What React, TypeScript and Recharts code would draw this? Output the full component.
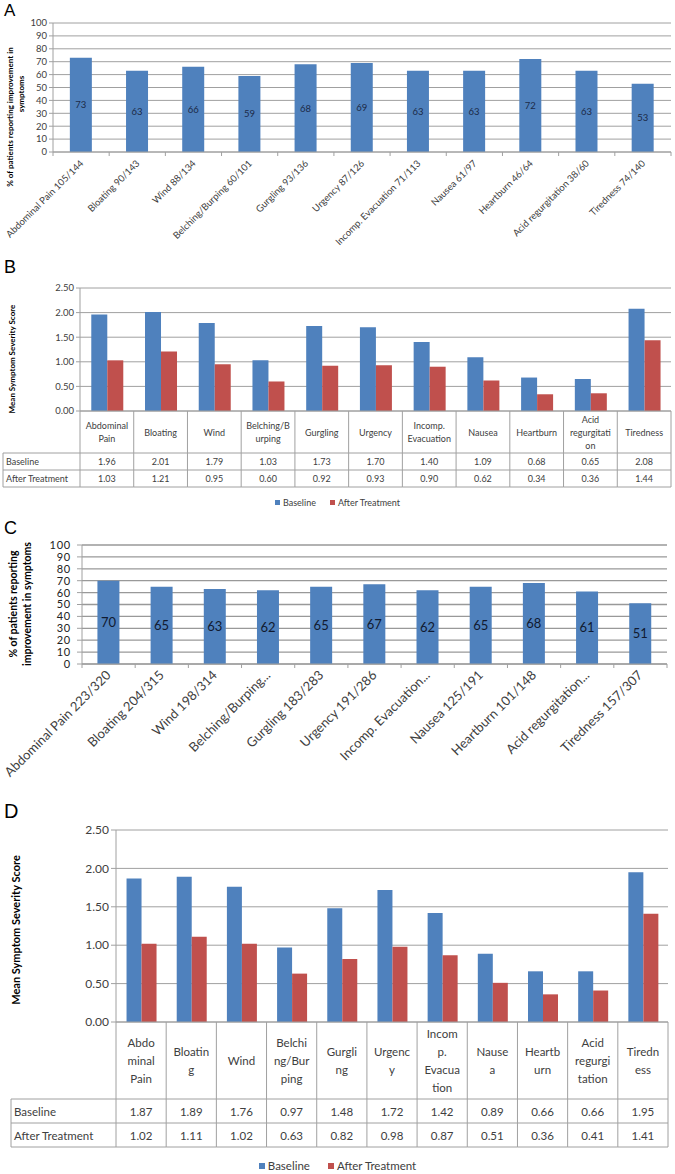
import React from "react";
import { BarChart, Bar, XAxis, YAxis, CartesianGrid, LabelList, Legend } from "recharts";

// --- data ---
const symptomsA = [
  "Abdominal Pain 105/144",
  "Bloating 90/143",
  "Wind 88/134",
  "Belching/Burping 60/101",
  "Gurgling 93/136",
  "Urgency 87/126",
  "Incomp. Evacuation 71/113",
  "Nausea 61/97",
  "Heartburn 46/64",
  "Acid regurgitation 38/60",
  "Tiredness 74/140",
];
const improvedA = [73, 63, 66, 59, 68, 69, 63, 63, 72, 63, 53];

const headersB = [
  ["Abdominal", "Pain"],
  ["Bloating"],
  ["Wind"],
  ["Belching/B", "urping"],
  ["Gurgling"],
  ["Urgency"],
  ["Incomp.", "Evacuation"],
  ["Nausea"],
  ["Heartburn"],
  ["Acid", "regurgitati", "on"],
  ["Tiredness"],
];
const baselineB = [1.96, 2.01, 1.79, 1.03, 1.73, 1.7, 1.4, 1.09, 0.68, 0.65, 2.08];
const afterB = [1.03, 1.21, 0.95, 0.6, 0.92, 0.93, 0.9, 0.62, 0.34, 0.36, 1.44];

const symptomsC = [
  "Abdominal Pain 223/320",
  "Bloating 204/315",
  "Wind 198/314",
  "Belching/Burping...",
  "Gurgling 183/283",
  "Urgency 191/286",
  "Incomp. Evacuation...",
  "Nausea 125/191",
  "Heartburn 101/148",
  "Acid regurgitation...",
  "Tiredness 157/307",
];
const improvedC = [70, 65, 63, 62, 65, 67, 62, 65, 68, 61, 51];

const headersD = [
  ["Abdo", "minal", "Pain"],
  ["Bloatin", "g"],
  ["Wind"],
  ["Belchi", "ng/Bur", "ping"],
  ["Gurgli", "ng"],
  ["Urgenc", "y"],
  ["Incom", "p.", "Evacua", "tion"],
  ["Nause", "a"],
  ["Heartb", "urn"],
  ["Acid", "regurgi", "tation"],
  ["Tiredn", "ess"],
];
const baselineD = [1.87, 1.89, 1.76, 0.97, 1.48, 1.72, 1.42, 0.89, 0.66, 0.66, 1.95];
const afterD = [1.02, 1.11, 1.02, 0.63, 0.82, 0.98, 0.87, 0.51, 0.36, 0.41, 1.41];

const rowNames = ["Baseline", "After Treatment"];
const pctTicks = [0, 10, 20, 30, 40, 50, 60, 70, 80, 90, 100];
const scoreTicks = [0, 0.5, 1, 1.5, 2, 2.5];

// --- style ---
const FONT = "Lato, Carlito, Calibri, 'Open Sans', sans-serif";
const BLUE = "#4f81bd";
const RED = "#c0504d";
const GRID = "#a0a0a0";
const TXT = "#404040";
const N = 11;

const dataA = symptomsA.map((name, i) => ({ name, pct: improvedA[i] }));
const dataC = symptomsC.map((name, i) => ({ name, pct: improvedC[i] }));
const dataB = headersB.map((h, i) => ({ name: h.join(""), base: baselineB[i], after: afterB[i] }));
const dataD = headersD.map((h, i) => ({ name: h.join(""), base: baselineD[i], after: afterD[i] }));

// rotated category label + tick marks on the category boundaries
const rotatedTick = (band: number, fontSize: number, dy: number) => (props: any) => {
  const { x, y, index, payload } = props;
  const l = x - band / 2;
  const ax = x + 3;
  const ay = y + dy;
  return (
    <g>
      <line x1={l} y1={y} x2={l} y2={y + 4} stroke={GRID} />
      {index === N - 1 && <line x1={x + band / 2} y1={y} x2={x + band / 2} y2={y + 4} stroke={GRID} />}
      <text
        x={ax}
        y={ay}
        transform={`rotate(-45 ${ax} ${ay})`}
        textAnchor="end"
        fontSize={fontSize}
        fontFamily={FONT}
        fill={TXT}
      >
        {payload.value}
      </text>
    </g>
  );
};

type TableSpec = {
  headers: string[][];
  rows: number[][];
  band: number;
  labelLeft: number;
  headH: number;
  rowH: number;
  font: number;
  lineH: number;
};

// data table under the plot, one column per category tick
const tableTick = (s: TableSpec) => (props: any) => {
  const { x, y, index } = props;
  const half = s.band / 2;
  const l = x - half;
  const r = x + half;
  const y1 = y + s.headH;
  const y2 = y1 + s.rowH;
  const y3 = y2 + s.rowH;
  const lines = s.headers[index] || [];
  const top = y + s.headH / 2 - ((lines.length - 1) * s.lineH) / 2;
  const t = { fontSize: s.font, fontFamily: FONT, fill: TXT, dominantBaseline: "central" as const };
  return (
    <g>
      <line x1={l} y1={y} x2={l} y2={y3} stroke={GRID} />
      {index === N - 1 && <line x1={r} y1={y} x2={r} y2={y3} stroke={GRID} />}
      <line x1={l} y1={y1} x2={r} y2={y1} stroke={GRID} />
      <line x1={l} y1={y2} x2={r} y2={y2} stroke={GRID} />
      <line x1={l} y1={y3} x2={r} y2={y3} stroke={GRID} />
      {lines.map((ln, k) => (
        <text key={k} x={x} y={top + k * s.lineH} textAnchor="middle" {...t}>
          {ln}
        </text>
      ))}
      <text x={x} y={(y1 + y2) / 2} textAnchor="middle" {...t}>
        {s.rows[0][index].toFixed(2)}
      </text>
      <text x={x} y={(y2 + y3) / 2} textAnchor="middle" {...t}>
        {s.rows[1][index].toFixed(2)}
      </text>
      {index === 0 && (
        <g>
          <line x1={s.labelLeft} y1={y1} x2={s.labelLeft} y2={y3} stroke={GRID} />
          <line x1={s.labelLeft} y1={y1} x2={l} y2={y1} stroke={GRID} />
          <line x1={s.labelLeft} y1={y2} x2={l} y2={y2} stroke={GRID} />
          <line x1={s.labelLeft} y1={y3} x2={l} y2={y3} stroke={GRID} />
          <text x={s.labelLeft + 3} y={(y1 + y2) / 2} {...t}>
            {rowNames[0]}
          </text>
          <text x={s.labelLeft + 3} y={(y2 + y3) / 2} {...t}>
            {rowNames[1]}
          </text>
        </g>
      )}
    </g>
  );
};

const legendContent = (fontSize: number, sq: number, gap: number) => (props: any) => {
  const items = [...(props.payload || [])].sort(
    (a: any, b: any) => rowNames.indexOf(a.value) - rowNames.indexOf(b.value)
  );
  return (
    <div style={{ display: "flex", justifyContent: "center", gap, fontFamily: FONT, fontSize, color: TXT }}>
      {items.map((p: any) => (
        <span key={p.value} style={{ display: "flex", alignItems: "center" }}>
          <span style={{ width: sq, height: sq, background: p.color, marginRight: 3, display: "inline-block" }} />
          {p.value}
        </span>
      ))}
    </div>
  );
};

const Letter = ({ ch, top, base, size }: { ch: string; top: number; base: number; size: number }) => (
  <svg style={{ position: "absolute", left: 0, top }} width={30} height={30}>
    <text x={4} y={base} fontSize={size} fontFamily="'Liberation Sans', Arial, sans-serif" fill="#000">
      {ch}
    </text>
  </svg>
);

const yLabel = (items: { x: number; y: number; text: string }[], fontSize: number) => () => (
  <g>
    {items.map((it) => (
      <text
        key={it.text}
        transform={`translate(${it.x} ${it.y}) rotate(-90)`}
        textAnchor="middle"
        dominantBaseline="central"
        fontSize={fontSize}
        fontWeight="bold"
        fontFamily={FONT}
        fill="#000"
      >
        {it.text}
      </text>
    ))}
  </g>
);

const PanelA = () => (
  <BarChart width={675} height={250} data={dataA} margin={{ top: 23, right: 4, bottom: 0, left: 0 }} barCategoryGap="30%">
    <CartesianGrid vertical={false} stroke={GRID} />
    <XAxis dataKey="name" interval={0} height={98} tickLine={false} tickSize={0} tickMargin={0} stroke={GRID} tick={rotatedTick(618 / N, 9.5, 12)} />
    <YAxis
      width={53}
      domain={[0, 100]}
      ticks={pctTicks}
      interval={0}
      stroke={GRID}
      tickSize={4}
      tick={{ fill: TXT, fontSize: 9.5, fontFamily: FONT }}
      label={yLabel(
        [
          { x: 10, y: 117, text: "% of patients reporting improvement in" },
          { x: 21, y: 94, text: "symptoms" },
        ],
        8
      )}
    />
    <Bar dataKey="pct" fill={BLUE} isAnimationActive={false}>
      <LabelList dataKey="pct" position="center" fill="#1c2a48" fontSize={9.5} fontFamily={FONT} />
    </Bar>
  </BarChart>
);

const PanelB = () => (
  <BarChart width={675} height={262} data={dataB} margin={{ top: 38, right: 4, bottom: 25, left: 0 }} barCategoryGap="21%" barGap={0}>
    <CartesianGrid vertical={false} stroke={GRID} />
    <XAxis
      dataKey="name"
      interval={0}
      height={76}
      tickLine={false}
      tickSize={0}
      tickMargin={0}
      stroke={GRID}
      tick={tableTick({ headers: headersB, rows: [baselineB, afterB], band: 591 / N, labelLeft: 3, headH: 42, rowH: 17, font: 9, lineH: 13 })}
    />
    <YAxis
      width={80}
      domain={[0, 2.5]}
      ticks={scoreTicks}
      interval={0}
      stroke={GRID}
      tickSize={4}
      tickFormatter={(v: number) => v.toFixed(2)}
      tick={{ fill: TXT, fontSize: 9.5, fontFamily: FONT }}
      label={yLabel([{ x: 12, y: 109, text: "Mean Symptom Severity Score" }], 8)}
    />
    <Legend verticalAlign="middle" align="center" layout="horizontal" wrapperStyle={{ top: 247, left: 0, width: 675 }} content={legendContent(9, 5, 14)} />
    <Bar dataKey="base" name="Baseline" fill={BLUE} isAnimationActive={false} />
    <Bar dataKey="after" name="After Treatment" fill={RED} isAnimationActive={false} />
  </BarChart>
);

const PanelC = () => (
  <BarChart width={675} height={260} data={dataC} margin={{ top: 25, right: 8, bottom: 0, left: 0 }} barCategoryGap="29%">
    <CartesianGrid vertical={false} stroke="#999" strokeWidth={1.3} />
    <XAxis dataKey="name" interval={0} height={116} tickLine={false} tickSize={0} tickMargin={0} stroke={GRID} tick={rotatedTick(585 / N, 13, 12)} />
    <YAxis
      width={82}
      domain={[0, 100]}
      ticks={pctTicks}
      interval={0}
      stroke={GRID}
      tickSize={5}
      tickMargin={6}
      tick={{ fill: "#222", fontSize: 11, fontFamily: FONT, letterSpacing: 0.8 }}
      label={yLabel(
        [
          { x: 13, y: 84, text: "% of patients  reporting" },
          { x: 27, y: 84, text: "improvement in symptoms" },
        ],
        10.5
      )}
    />
    <Bar dataKey="pct" fill={BLUE} isAnimationActive={false}>
      <LabelList dataKey="pct" position="center" fill="#111a30" fontSize={13} fontFamily={FONT} />
    </Bar>
  </BarChart>
);

const PanelD = () => (
  <BarChart width={675} height={394} data={dataD} margin={{ top: 50, right: 7, bottom: 27, left: 0 }} barCategoryGap="21%" barGap={0}>
    <CartesianGrid vertical={false} stroke={GRID} />
    <XAxis
      dataKey="name"
      interval={0}
      height={125}
      tickLine={false}
      tickSize={0}
      tickMargin={0}
      stroke={GRID}
      tick={tableTick({ headers: headersD, rows: [baselineD, afterD], band: 552 / N, labelLeft: 11, headH: 77, rowH: 24, font: 11.5, lineH: 18.3 })}
    />
    <YAxis
      width={116}
      domain={[0, 2.5]}
      ticks={scoreTicks}
      interval={0}
      stroke={GRID}
      tickSize={5}
      tickFormatter={(v: number) => v.toFixed(2)}
      tick={{ fill: TXT, fontSize: 12, fontFamily: FONT }}
      label={yLabel([{ x: 15, y: 150, text: "Mean Symptom Severity Score" }], 11)}
    />
    <Legend verticalAlign="middle" align="center" layout="horizontal" wrapperStyle={{ top: 379, left: 0, width: 675 }} content={legendContent(11.5, 6, 18)} />
    <Bar dataKey="base" name="Baseline" fill={BLUE} isAnimationActive={false} />
    <Bar dataKey="after" name="After Treatment" fill={RED} isAnimationActive={false} />
  </BarChart>
);

export default function App() {
  return (
    <div style={{ position: "absolute", left: 0, top: 0, width: 675, height: 1174, background: "#fff", overflow: "hidden" }}>
      <div style={{ position: "absolute", left: 0, top: 0 }}>
        <PanelA />
      </div>
      <div style={{ position: "absolute", left: 0, top: 250 }}>
        <PanelB />
      </div>
      <div style={{ position: "absolute", left: 0, top: 520 }}>
        <PanelC />
      </div>
      <div style={{ position: "absolute", left: 0, top: 780 }}>
        <PanelD />
      </div>
      <Letter ch="A" top={0} base={16} size={17} />
      <Letter ch="B" top={250} base={23} size={18} />
      <Letter ch="C" top={515} base={19} size={18} />
      <Letter ch="D" top={795} base={23} size={20} />
    </div>
  );
}
